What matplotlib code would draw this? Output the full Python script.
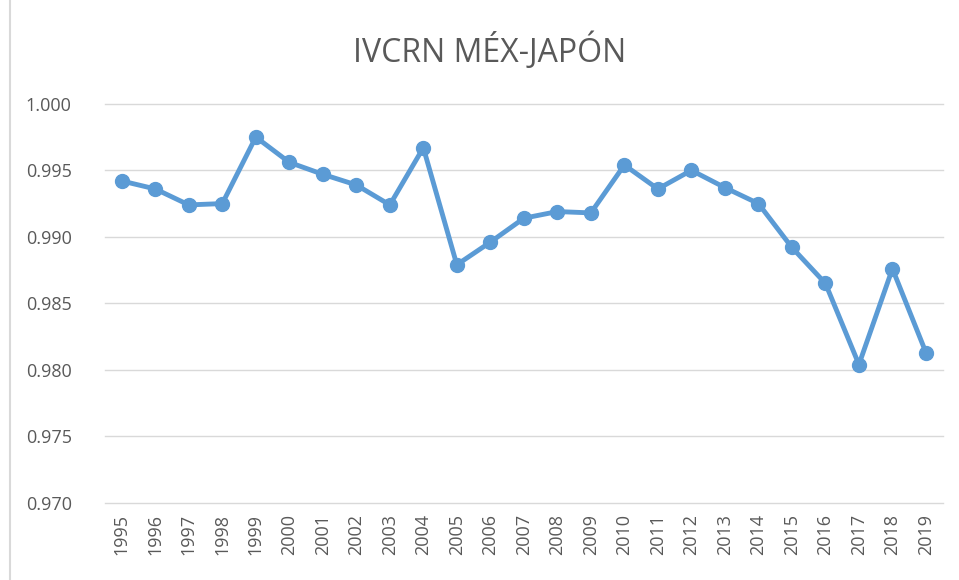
import matplotlib.pyplot as plt
from matplotlib.lines import Line2D

years = [str(y) for y in range(1995, 2020)]
ivcrn = [0.9942, 0.9936, 0.9924, 0.9925, 0.9975, 0.9956, 0.9947, 0.9939, 0.9924, 0.9967,
         0.9879, 0.9896, 0.9914, 0.9919, 0.9918, 0.9954, 0.9936, 0.9950, 0.9937, 0.9925,
         0.9892, 0.9865, 0.9804, 0.9876, 0.9813]
yticks = [0.970, 0.975, 0.980, 0.985, 0.990, 0.995, 1.000]

plt.rcParams['font.family'] = ['Open Sans', 'DejaVu Sans']
txt = '#595959'

fig = plt.figure(figsize=(9.59, 5.8), dpi=100)
ax = fig.add_axes([0.1095, 0.133, 0.8735, 0.688])

x = range(len(years))
ax.plot(x, ivcrn, color='#5B9BD5', linewidth=3.5, marker='o', markersize=10,
        solid_capstyle='round', zorder=3)

ax.set_xlim(-0.5, len(years) - 0.5)
ax.set_ylim(0.970, 1.000)
ax.set_yticks(yticks)
ax.set_yticklabels(['{:.3f}'.format(v) for v in yticks])
ax.set_xticks(list(x))
ax.set_xticklabels(years, rotation=90)
ax.tick_params(axis='both', length=0, colors=txt, labelsize=13)
ax.tick_params(axis='y', pad=24)
ax.tick_params(axis='x', pad=8)
ax.grid(axis='y', color='#D9D9D9', linewidth=1)
for gl in ax.get_ygridlines():
    gl.set_clip_on(False)
ax.set_axisbelow(True)
for s in ax.spines.values():
    s.set_visible(False)

fig.text(0.511, 0.912, 'IVCRN MÉX-JAPÓN', ha='center', va='center',
         fontsize=23, color=txt)

fig.add_artist(Line2D([0.0105, 0.0105], [0, 1], transform=fig.transFigure,
                      color='#D9D9D9', linewidth=1.5))

fig.savefig('out.png', dpi=100)
